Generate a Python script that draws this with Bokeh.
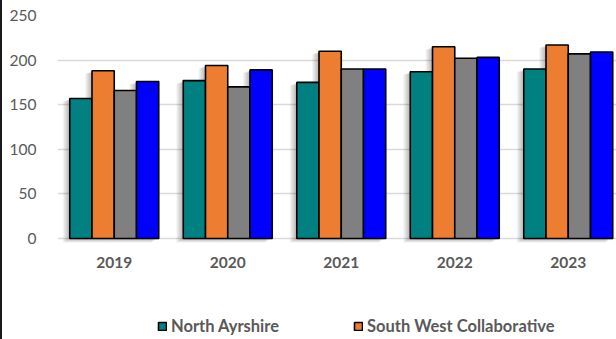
from bokeh.plotting import figure
from bokeh.models import FixedTicker, Legend, LegendItem, Range1d, Div
from bokeh.core.properties import value
from bokeh.layouts import row
from bokeh.embed import file_html
from bokeh.resources import INLINE

# Data
years = ["2019", "2020", "2021", "2022", "2023"]
north_ayrshire = [157, 177, 175, 187, 190]
south_west_collaborative = [188, 194, 210, 215, 217]
series_3 = [166, 170, 190, 202, 207]
series_4 = [176, 189, 190, 203, 209]
legend_names = ["North Ayrshire", "South West Collaborative"]
series_values = [north_ayrshire, south_west_collaborative, series_3, series_4]
colors = ["#008080", "#ED7D31", "#808080", "#0000FF"]
y_ticks = [0, 50, 100, 150, 200, 250]

FONT = "Lato"
TEXT = "#595959"

# the frame runs down to the bottom edge so the category labels and legend
# can sit beneath the zero line
PX_PER_UNIT = 0.892
y_bottom = -(339 - 238) / PX_PER_UNIT

p = figure(
    width=614, height=339,
    x_range=Range1d(0.5, 5.425), y_range=Range1d(y_bottom, 250),
    output_backend="svg", toolbar_location=None,
    min_border_left=55, min_border_right=0, min_border_top=15, min_border_bottom=0,
)
p.outline_line_color = None
p.background_fill_color = "white"
p.border_fill_color = "white"

bar_w = 0.196
offsets = [-1.5 * bar_w, -0.5 * bar_w, 0.5 * bar_w, 1.5 * bar_w]
xs = list(range(1, len(years) + 1))

# soft drop shadow behind each bar
px_x = 1 / 113.5
px_y = 1 / PX_PER_UNIT
for k in range(1, 8):
    for off, vals in zip(offsets, series_values):
        p.vbar(x=[x + off - k * px_x for x in xs], width=bar_w,
               top=[v - k * 0.4 * px_y for v in vals], bottom=-k * 0.6 * px_y,
               fill_color="black", fill_alpha=0.045, line_color=None)

renderers = []
for off, vals, col in zip(offsets, series_values, colors):
    r = p.vbar(x=[x + off for x in xs], width=bar_w, top=vals, bottom=0,
               fill_color=col, line_color="black", line_width=1.6)
    renderers.append(r)

# category labels under the zero line
p.text(x=xs, y=[0] * len(xs), text=years, y_offset=24,
       text_font=value(FONT), text_font_style="bold", text_font_size="15.5px",
       text_color=TEXT, text_align="center", text_baseline="middle")

p.xaxis.visible = False

p.yaxis.ticker = FixedTicker(ticks=y_ticks)
p.yaxis.major_label_text_font = FONT
p.yaxis.major_label_text_font_size = "15.5px"
p.yaxis.major_label_text_color = TEXT
p.yaxis.major_label_standoff = 15
p.yaxis.axis_line_color = None
p.yaxis.major_tick_line_color = None
p.yaxis.minor_tick_line_color = None

p.xgrid.grid_line_color = None
p.ygrid.ticker = FixedTicker(ticks=y_ticks)
p.ygrid.grid_line_color = "#d9d9d9"
p.ygrid.grid_line_width = 1.5

legend = Legend(
    items=[LegendItem(label=n, renderers=[r]) for n, r in zip(legend_names, renderers)],
    location=(100, 3), orientation="horizontal",
    glyph_width=10, glyph_height=10, label_standoff=4, label_width=170, spacing=12,
    padding=0, margin=0, border_line_color=None, background_fill_alpha=0,
    label_text_font=FONT, label_text_font_style="bold", label_text_font_size="16.5px",
    label_text_color=TEXT,
)
p.add_layout(legend, "center")

edge = Div(width=2, height=339, margin=0, styles={"background-color": "#1a1a1a"})
layout = row(edge, p, spacing=0)

open("out.html", "w").write(file_html(layout, INLINE))
